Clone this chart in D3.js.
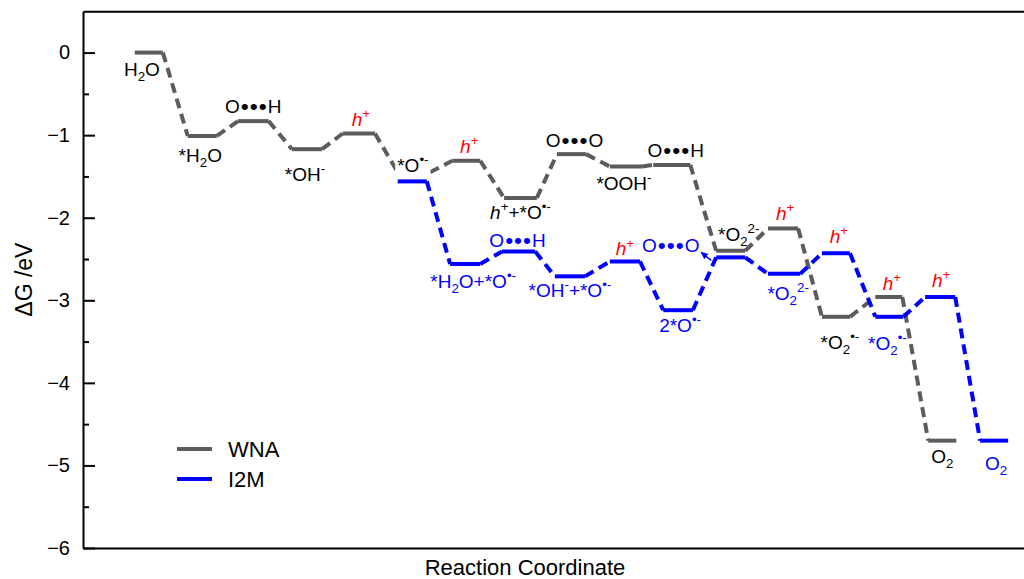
<!DOCTYPE html>
<html>
<head>
<meta charset="utf-8">
<script src="https://cdn.jsdelivr.net/npm/d3@7"></script>
<style>
  body { margin: 0; background: #fff; }
  svg text { font-family: "Liberation Sans", Arial, Helvetica, sans-serif; }
</style>
</head>
<body>
<svg id="chart" width="1024" height="579"></svg>
<script>
// ---- Data: free-energy levels (reaction-coordinate span, ΔG in eV) ----
const seriesNames = ["WNA", "I2M"];

const wnaStart = [0.00, 1.00, 1.95, 2.97, 3.93, 4.97, 6.00, 6.98, 7.98, 8.98, 9.80, 10.99, 11.97, 12.99, 14.00, 15.00];
const wnaEnd   = [0.53, 1.55, 2.53, 3.54, 4.54, 5.58, 6.53, 7.60, 8.53, 9.59, 10.50, 11.54, 12.54, 13.52, 14.51, 15.53];
const wnaG     = [0.00, -1.01, -0.83, -1.17, -0.98, -1.45, -1.31, -1.76, -1.23, -1.38, -1.36, -2.40, -2.13, -3.20, -2.96, -4.70];
const wnaLabels = ["H_{2}O", "*H_{2}O", "O•••H", "*OH^{-}", "~{h}^{+}", "*O^{•-}", "~{h}^{+}",
                   "~{h}^{+}+*O^{•-}", "O•••O", "*OOH^{-}", "O•••H", "*O_{2}^{2-}", "~{h}^{+}",
                   "*O_{2}^{•-}", "~{h}^{+}", "O_{2}"];

const i2mStart = [4.97, 5.96, 6.94, 7.94, 8.98, 9.99, 10.99, 11.97, 12.99, 14.00, 14.94, 15.98];
const i2mEnd   = [5.52, 6.53, 7.57, 8.51, 9.55, 10.55, 11.54, 12.58, 13.52, 14.53, 15.51, 16.51];
const i2mG     = [-1.56, -2.56, -2.41, -2.71, -2.53, -3.12, -2.48, -2.68, -2.43, -3.20, -2.96, -4.70];
const i2mLabels = ["", "*H_{2}O+*O^{•-}", "O•••H", "*OH^{-}+*O^{•-}", "~{h}^{+}", "2*O^{•-}", "O•••O",
                   "*O_{2}^{2-}", "~{h}^{+}", "*O_{2}^{•-}", "~{h}^{+}", "O_{2}"];

const yTicks = [0, -1, -2, -3, -4, -5, -6];
const yMinorTicks = [-0.5, -1.5, -2.5, -3.5, -4.5, -5.5];

// ---- Layout ----
const plot = { left: 83, right: 1024, top: 11.3, bottom: 548 };
const colors = { WNA: "#5c5c5c", I2M: "#0000ff", hole: "#ff0000", text: "#000000" };
const levelWidth = 4;
const labelSize = 19;

// label offsets [dx, dy] from the level's centre / height, in px
const wnaLabelOffsets = [[-7, 23], [-2, 26], [0, -8], [-2, 32], [2, -8], [-1, 0], [3, -8], [0, 21],
                         [3, -7], [-2, 23], [4, -8], [8, -10], [2, -8], [4, 32], [3, -7], [0, 22]];
const i2mLabelOffsets = [[0, 0], [8, 24], [-1, -5], [0, 21], [0, -6], [2, 22], [-60, -5],
                         [4, 26], [3, -10], [-2, 33], [1, -10], [2, 29]];

const svg = d3.select("#chart");

const x = d3.scaleLinear().domain([-0.98, 16.81]).range([plot.left, plot.right]);
const y = d3.scaleLinear().domain([-6, 0.5]).range([plot.bottom, plot.top]);

// ---- Frame and axes ----
const axisG = svg.append("g").attr("class", "axes");

axisG.append("g")
  .attr("transform", `translate(${plot.left},0)`)
  .call(d3.axisLeft(y).tickValues(yMinorTicks).tickSize(-6).tickSizeOuter(0).tickFormat(() => ""))
  .call(g => g.select(".domain").remove())
  .call(g => g.selectAll(".tick text").remove());

const yAxisG = axisG.append("g")
  .attr("transform", `translate(${plot.left},0)`)
  .call(d3.axisLeft(y).tickValues(yTicks).tickSize(-12).tickSizeOuter(0).tickPadding(13)
    .tickFormat(d3.format("d")));

yAxisG.selectAll(".tick text")
  .attr("font-size", 20)
  .attr("font-family", "Liberation Sans, Arial, sans-serif")
  .attr("fill", "#000");

axisG.append("g")
  .attr("transform", `translate(0,${plot.bottom})`)
  .call(d3.axisBottom(x).tickValues([]).tickSizeOuter(0));
axisG.append("g")
  .attr("transform", `translate(0,${y(0.5)})`)
  .call(d3.axisTop(x).tickValues([]).tickSizeOuter(0));

axisG.selectAll(".domain, .tick line").attr("stroke", "#000").attr("stroke-width", 2);

svg.append("text")
  .attr("transform", `translate(32,${(plot.top + plot.bottom) / 2}) rotate(-90)`)
  .attr("text-anchor", "middle")
  .attr("font-size", 23)
  .text("ΔG /eV");

svg.append("text")
  .attr("x", 525).attr("y", 575)
  .attr("text-anchor", "middle")
  .attr("font-size", 22)
  .text("Reaction Coordinate");

// ---- Rich label text: _{sub}, ^{sup}, ~{italic} ----
function richText(textSel, str, fs) {
  const re = /([_^~])\{([^}]*)\}|([^_^~]+)/g;
  let m, offset = 0;
  while ((m = re.exec(str))) {
    const kind = m[1] || "";
    const txt = m[2] !== undefined ? m[2] : m[3];
    let target = 0, size = fs, italic = false;
    if (kind === "_") { target = 0.28 * fs; size = 0.7 * fs; }
    if (kind === "^") { target = -0.42 * fs; size = 0.7 * fs; }
    if (kind === "~") { italic = true; }
    // bullet runs are drawn slightly larger and spaced out
    const parts = kind === "" ? txt.split(/(•••)/).filter(p => p.length) : [txt];
    parts.forEach(p => {
      const bullets = p === "•••";
      const shift = bullets ? target + 1 : target;
      const ts = textSel.append("tspan").text(p).attr("font-size", bullets ? 1.2 * fs : size);
      if (shift !== offset) { ts.attr("dy", shift - offset); offset = shift; }
      if (italic) ts.attr("font-style", "italic");
      if (bullets) ts.attr("letter-spacing", 1).attr("dx", 1);
    });
  }
}

// ---- Series ----
const series = [
  { name: "WNA", start: wnaStart, end: wnaEnd, g: wnaG, labels: wnaLabels, offsets: wnaLabelOffsets,
    color: colors.WNA, labelColor: colors.text },
  { name: "I2M", start: i2mStart, end: i2mEnd, g: i2mG, labels: i2mLabels, offsets: i2mLabelOffsets,
    color: colors.I2M, labelColor: colors.I2M }
];

const marks = svg.append("g").attr("class", "marks");

series.forEach(s => {
  const grp = marks.append("g").attr("class", "series-" + s.name);
  const links = d3.range(s.g.length - 1).map(i => ({
    x1: s.end[i], y1: s.g[i], x2: s.start[i + 1], y2: s.g[i + 1]
  }));
  grp.selectAll("line.link").data(links).join("line")
    .attr("class", "link")
    .attr("x1", d => x(d.x1)).attr("y1", d => y(d.y1))
    .attr("x2", d => x(d.x2)).attr("y2", d => y(d.y2))
    .attr("stroke", s.color).attr("stroke-width", levelWidth)
    .attr("stroke-dasharray", "10,6");
  grp.selectAll("line.level").data(s.g.map((g, i) => ({ g, i }))).join("line")
    .attr("class", "level")
    .attr("x1", d => x(s.start[d.i])).attr("x2", d => x(s.end[d.i]))
    .attr("y1", d => y(d.g)).attr("y2", d => y(d.g))
    .attr("stroke", s.color).attr("stroke-width", levelWidth);
});

// ---- State labels ----
const labelLayer = svg.append("g").attr("class", "labels");
const labelBackground = [["WNA", 5]];

series.forEach(s => {
  s.labels.forEach((lab, i) => {
    if (!lab) return;
    const cx = (x(s.start[i]) + x(s.end[i])) / 2 + s.offsets[i][0];
    const cy = y(s.g[i]) + s.offsets[i][1];
    const isHole = lab === "~{h}^{+}";
    const t = labelLayer.append("text")
      .attr("x", cx).attr("y", cy)
      .attr("text-anchor", "middle")
      .attr("font-size", labelSize)
      .attr("fill", isHole ? colors.hole : s.labelColor);
    richText(t, lab, labelSize);
    if (labelBackground.some(b => b[0] === s.name && b[1] === i)) {
      const bb = t.node().getBBox();
      labelLayer.insert("rect", () => t.node())
        .attr("x", bb.x - 2).attr("y", bb.y).attr("width", bb.width + 4).attr("height", bb.height + 2)
        .attr("fill", "#fff");
    }
  });
});

// arrow from the I2M level to its O•••O label
svg.append("defs").append("marker")
  .attr("id", "arrowHead").attr("viewBox", "0 0 10 10")
  .attr("refX", 8).attr("refY", 5).attr("markerWidth", 6).attr("markerHeight", 6)
  .attr("orient", "auto")
  .append("path").attr("d", "M0,1 L9,5 L0,9 Z").attr("fill", colors.I2M);

const ai = 6;
marks.append("line")
  .attr("x1", x(i2mStart[ai]) - 5).attr("y1", y(i2mG[ai]) + 3)
  .attr("x2", x(i2mStart[ai]) - 15).attr("y2", y(i2mG[ai]) - 5)
  .attr("stroke", colors.I2M).attr("stroke-width", 1.4)
  .attr("marker-end", "url(#arrowHead)");

// ---- Legend ----
const legend = svg.append("g").attr("class", "legend");
seriesNames.forEach((name, k) => {
  const ly = 449 + k * 30;
  legend.append("line")
    .attr("x1", 177).attr("x2", 212).attr("y1", ly).attr("y2", ly)
    .attr("stroke", colors[name]).attr("stroke-width", levelWidth);
  legend.append("text")
    .attr("x", 228).attr("y", ly + 8)
    .attr("font-size", 22)
    .text(name);
});
</script>
</body>
</html>
